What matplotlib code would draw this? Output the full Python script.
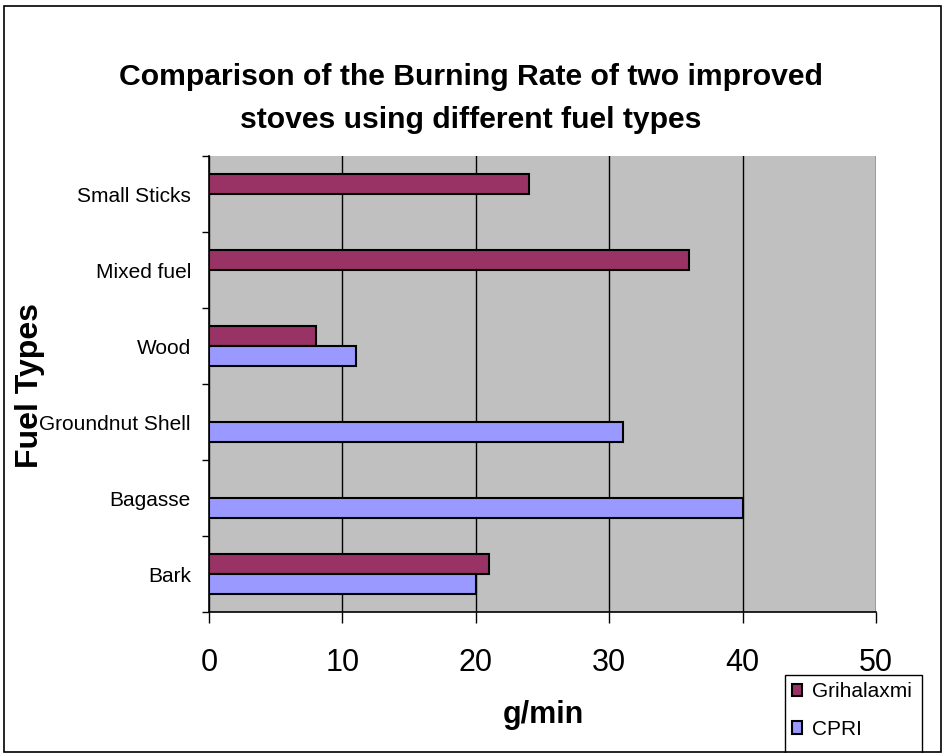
import numpy as np
import matplotlib.pyplot as plt
from matplotlib.patches import Rectangle

plt.rcParams['font.family'] = ['Liberation Sans', 'DejaVu Sans']

# Daten
fuel_types = ["Bark", "Bagasse", "Groundnut Shell", "Wood", "Mixed fuel", "Small Sticks"]
grihalaxmi = [21, np.nan, np.nan, 8, 36, 24]
cpri = [20, 40, 31, 11, np.nan, np.nan]
x_ticks = [0, 10, 20, 30, 40, 50]

W, H = 942, 753
fig = plt.figure(figsize=(W / 100, H / 100), dpi=100)
# Plotbereich: x 209..876, y 156..612 (Pixel)
ax = fig.add_axes([209 / W, 1 - 612 / H, (876 - 209) / W, (612 - 156) / H])

y = np.arange(len(fuel_types))
h = 0.263
ax.barh(y + h / 2, grihalaxmi, height=h, color="#993366", edgecolor="black",
        linewidth=1.5, label="Grihalaxmi", zorder=3)
ax.barh(y - h / 2, cpri, height=h, color="#9999FF", edgecolor="black",
        linewidth=1.5, label="CPRI", zorder=3)

ax.set_facecolor("#C0C0C0")
ax.set_xlim(0, 50)
ax.set_ylim(-0.5, len(fuel_types) - 0.5)
ax.set_xticks(x_ticks)
ax.set_xticklabels([str(t) for t in x_ticks], fontsize=22)
ax.set_yticks(y)
ax.set_yticklabels(fuel_types, fontsize=15)
ax.set_yticks(np.arange(-0.5, len(fuel_types)), minor=True)
ax.tick_params(axis="y", which="major", length=0, pad=13)
ax.tick_params(axis="y", which="minor", length=5, direction="out", width=1)
ax.tick_params(axis="x", length=8, direction="out", pad=18, width=1)
ax.grid(axis="x", color="black", linewidth=1, zorder=0)
for s in ["top", "right"]:
    ax.spines[s].set_visible(False)
for s in ["left", "bottom"]:
    ax.spines[s].set_linewidth(1.2)

fig.text(0.5, 1 - 85 / H, "Comparison of the Burning Rate of two improved",
         ha="center", va="baseline", fontsize=21.7, fontweight="bold")
fig.text(0.5, 1 - 128 / H, "stoves using different fuel types",
         ha="center", va="baseline", fontsize=21.7, fontweight="bold")
fig.text(543 / W, 1 - 723 / H, "g/min", ha="center", va="baseline", fontsize=22, fontweight="bold")
fig.text(30 / W, 1 - 386 / H, "Fuel Types", ha="center", va="center", rotation=90,
         fontsize=23, fontweight="bold")

# Legende (Rahmen separat, unten abgeschnitten wie im Original)
leg = fig.legend(loc="upper left", bbox_to_anchor=(785 / W, 1 - 675 / H), fontsize=15,
                 frameon=False, handlelength=0.45, handleheight=0.55, labelspacing=0.9,
                 borderpad=0.35, handletextpad=0.5, borderaxespad=0)
for p in leg.get_patches():
    p.set_linewidth(1.5)
fig.patches.append(Rectangle((785 / W, -0.02), (922 - 785) / W, 0.02 + 1 - 675 / H,
                             transform=fig.transFigure, fill=False, edgecolor="black",
                             linewidth=1))

fig.patches.append(Rectangle((4 / W, 1 - 752 / H), 937 / W, 746 / H, transform=fig.transFigure,
                             fill=False, edgecolor="black", linewidth=1.2))

fig.savefig("out.png", dpi=100)
